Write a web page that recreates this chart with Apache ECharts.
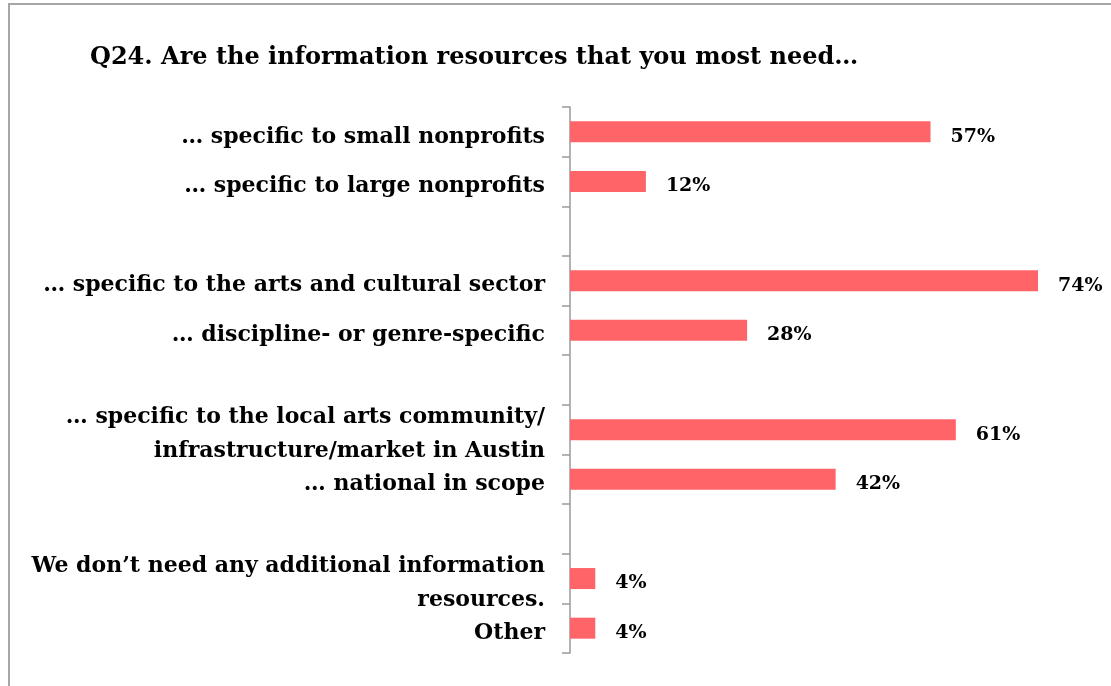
<!DOCTYPE html>
<html>
<head>
<meta charset="utf-8">
<script src="https://cdn.jsdelivr.net/npm/echarts@6/dist/echarts.min.js"></script>
<style>
  html, body { margin: 0; padding: 0; background: #fff; }
  #chart { width: 1111px; height: 686px; }
</style>
</head>
<body>
<div id="chart"></div>
<script>
// Survey question and answer groups (blank entries separate the groups)
const titleText = 'Q24. Are the information resources that you most need…';
const categories = [
  '… specific to small nonprofits',
  '… specific to large nonprofits',
  '',
  '… specific to the arts and cultural sector',
  '… discipline- or genre-specific',
  '',
  '… specific to the local arts community/\ninfrastructure/market in Austin',
  '… national in scope',
  '',
  'We don’t need any additional information\nresources.',
  'Other'
];
const percentages = [57, 12, null, 74, 28, null, 61, 42, null, 4, 4];

const serif = '"DejaVu Serif", "Liberation Serif", serif';
const chart = echarts.init(document.getElementById('chart'), null, { renderer: 'canvas' });

chart.setOption({
  animation: false,
  backgroundColor: '#ffffff',
  title: {
    text: titleText,
    left: 85,
    top: 41,
    textStyle: { fontFamily: serif, fontWeight: 'bold', fontSize: 24, color: '#000' }
  },
  graphic: [{
    type: 'rect',
    shape: { x: 9, y: 4, width: 1300, height: 900 },
    style: { fill: 'none', stroke: '#a6a6a6', lineWidth: 2 },
    silent: true
  }],
  grid: { left: 570, right: 35, top: 107, bottom: 33 },
  xAxis: {
    type: 'value',
    min: 0,
    max: 80,
    show: false
  },
  yAxis: {
    type: 'category',
    inverse: true,
    data: categories,
    axisLine: { lineStyle: { color: '#9a9a9a', width: 1.5 } },
    axisTick: { show: true, length: 8, lineStyle: { color: '#9a9a9a', width: 1.5 } },
    axisLabel: {
      margin: 25,
      interval: 0,
      align: 'right',
      // each line sits slightly below the band centre
      formatter: v => v ? v.split('\n').map(s => '{t|' + s + '}').join('\n') : '',
      rich: {
        t: {
          fontFamily: serif,
          fontWeight: 'bold',
          fontSize: 22,
          lineHeight: 34,
          color: '#000',
          padding: [10, 0, 0, 0]
        }
      }
    }
  },
  series: [{
    type: 'bar',
    data: percentages,
    barWidth: 21,
    itemStyle: { color: '#FF6468' },
    label: {
      show: true,
      position: 'right',
      distance: 20,
      offset: [0, 5],
      formatter: p => p.value + '%',
      fontFamily: serif,
      fontWeight: 'bold',
      fontSize: 19,
      color: '#000'
    }
  }]
});
</script>
</body>
</html>
